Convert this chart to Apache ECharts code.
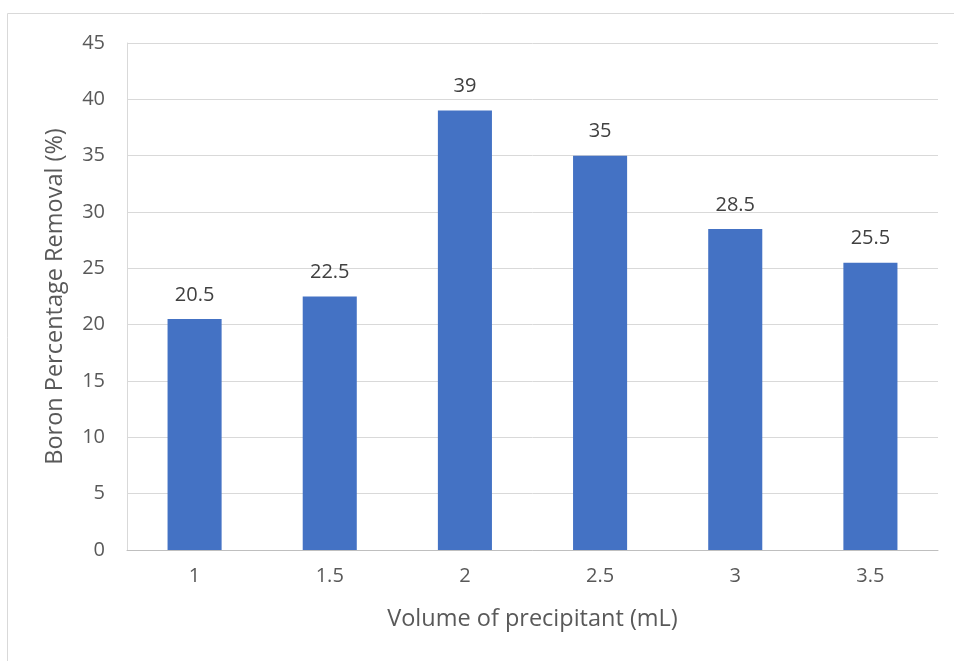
<!DOCTYPE html>
<html><head><meta charset="utf-8">
<script src="https://cdn.jsdelivr.net/npm/echarts@6/dist/echarts.min.js"></script>
<style>html,body{margin:0;padding:0;background:#fff}#c{width:954px;height:661px}</style>
</head><body><div id="c"></div>
<script>
const categories = ['1','1.5','2','2.5','3','3.5'];
const removal = [20.5, 22.5, 39, 35, 28.5, 25.5];
const yTicks = {min:0, max:45, interval:5};
const xTitle = 'Volume of precipitant (mL)';
const yTitle = 'Boron Percentage Removal (%)';

const chart = echarts.init(document.getElementById('c'));
const font = '"Open Sans", "Noto Sans", sans-serif';
chart.setOption({
  animation:false,
  graphic:[{type:'rect', shape:{x:7.5,y:13.5,width:1000,height:700}, style:{fill:'none',stroke:'#d9d9d9',lineWidth:1}}],
  grid:{left:127, right:16, top:43, bottom:111},
  xAxis:{type:'category', data:categories,
    name:xTitle, nameLocation:'middle', nameGap:57,
    nameTextStyle:{color:'#595959', fontSize:23.5, fontFamily:font},
    axisLine:{lineStyle:{color:'#bfbfbf'}}, axisTick:{show:false},
    axisLabel:{color:'#595959', fontSize:20, fontFamily:font, margin:16}},
  yAxis:{type:'value', min:yTicks.min, max:yTicks.max, interval:yTicks.interval,
    name:yTitle, nameLocation:'middle', nameGap:60,
    nameTextStyle:{color:'#595959', fontSize:23.5, fontFamily:font},
    axisLine:{show:true, lineStyle:{color:'#d9d9d9'}},
    splitLine:{lineStyle:{color:'#d9d9d9'}},
    axisLabel:{color:'#595959', fontSize:20, fontFamily:font, margin:22}},
  series:[{type:'bar', data:removal, barWidth:'40%',
    itemStyle:{color:'#4472C4'},
    label:{show:true, position:'top', distance:14, color:'#404040', fontSize:20, fontFamily:font}}]
});
</script></body></html>
